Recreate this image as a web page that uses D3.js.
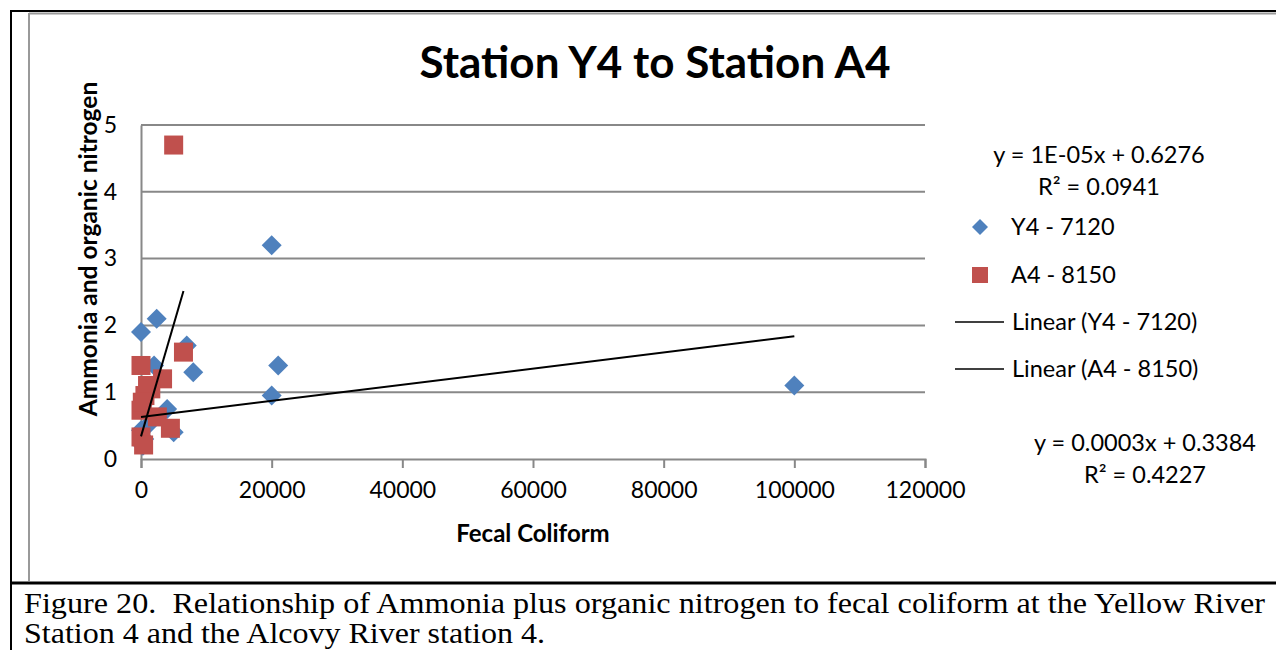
<!DOCTYPE html>
<html>
<head>
<meta charset="utf-8">
<script src="https://cdn.jsdelivr.net/npm/d3@7"></script>
<style>
  body { margin: 0; background: #fff; }
  svg { display: block; }
  text { font-family: Lato, "Open Sans", sans-serif; fill: #000; }
  .caption { font-family: "Liberation Serif", "Times New Roman", serif; white-space: pre; }
</style>
</head>
<body>
<svg width="1276" height="650"></svg>
<script>
// Y4 - 7120 (blue diamonds)
var y4X = [0, 2400, 2000, 7000, 8000, 20000, 21000, 20000, 4000, 5000, 0, 100000, 500, 300, 1000, 200];
var y4Y = [1.9, 2.1, 1.4, 1.7, 1.3, 3.2, 1.4, 0.95, 0.75, 0.4, 0.43, 1.1, 0.3, 0.2, 0.5, 0.8];

// A4 - 8150 (red squares)
var a4X = [5000, 6500, 0, 3300, 1000, 600, 0, 2500, 4500, 0, 400, 1500, 200];
var a4Y = [4.7, 1.6, 1.4, 1.2, 1.1, 0.95, 0.73, 0.63, 0.46, 0.33, 0.21, 1.05, 0.85];

// linear trend lines: [slope, intercept, xmin, xmax]
var trendY4 = [1.21e-5, 0.6276, 0, 100000];
var trendA4 = [0.000335, 0.3384, 0, 6500];

var xTicks = [0, 20000, 40000, 60000, 80000, 100000, 120000];
var yTicks = [0, 1, 2, 3, 4, 5];

var seriesNames = ["Y4 - 7120", "A4 - 8150", "Linear (Y4 - 7120)", "Linear (A4 - 8150)"];
var equations = [["y = 1E-05x + 0.6276", "R\u00B2 = 0.0941"], ["y = 0.0003x + 0.3384", "R\u00B2 = 0.4227"]];

var blue = "#4f81bd", red = "#c0504d", grid = "#888888";

var svg = d3.select("svg");

// frame
svg.append("line").attr("x1", 11).attr("y1", 11).attr("x2", 11).attr("y2", 650)
  .attr("stroke", "#000").attr("stroke-width", 2);
svg.append("line").attr("x1", 10).attr("y1", 11).attr("x2", 1276).attr("y2", 11)
  .attr("stroke", "#000").attr("stroke-width", 2);
svg.append("line").attr("x1", 29).attr("y1", 13.5).attr("x2", 1276).attr("y2", 13.5)
  .attr("stroke", "#999").attr("stroke-width", 2);
svg.append("line").attr("x1", 29).attr("y1", 13).attr("x2", 29).attr("y2", 581)
  .attr("stroke", "#999").attr("stroke-width", 2);
svg.append("line").attr("x1", 10).attr("y1", 583).attr("x2", 1276).attr("y2", 583)
  .attr("stroke", "#000").attr("stroke-width", 3);

var x = d3.scaleLinear().domain([0, 120000]).range([141, 925]);
var y = d3.scaleLinear().domain([0, 5]).range([459, 125]);

// gridlines
svg.append("g").selectAll("line")
  .data(yTicks.slice(1))
  .enter().append("line")
  .attr("x1", x(0)).attr("x2", x(120000))
  .attr("y1", function(d) { return y(d); })
  .attr("y2", function(d) { return y(d); })
  .attr("stroke", grid).attr("stroke-width", 2);

// x axis
var xAxis = svg.append("g")
  .attr("transform", "translate(0," + y(0) + ")")
  .call(d3.axisBottom(x).tickValues(xTicks).tickSize(9).tickPadding(14).tickFormat(d3.format("d")));
xAxis.select(".domain").attr("stroke", grid).attr("stroke-width", 2);
xAxis.selectAll(".tick line").attr("stroke", grid).attr("stroke-width", 2);
xAxis.selectAll(".tick text").attr("font-size", 23).attr("font-family", "Lato, sans-serif").attr("fill", "#000");

// y axis
var yAxis = svg.append("g")
  .attr("transform", "translate(" + x(0) + ",0)")
  .call(d3.axisLeft(y).tickValues(yTicks).tickSize(0).tickPadding(24).tickFormat(d3.format("d")));
yAxis.select(".domain").attr("stroke", grid).attr("stroke-width", 2);
yAxis.selectAll(".tick text").attr("font-size", 23).attr("font-family", "Lato, sans-serif").attr("fill", "#000");

// markers
var diamond = "M0,-10L10,0L0,10L-10,0Z";

svg.append("g").selectAll("path")
  .data(d3.range(y4X.length))
  .enter().append("path")
  .attr("d", diamond)
  .attr("fill", blue)
  .attr("transform", function(i) { return "translate(" + x(y4X[i]) + "," + y(y4Y[i]) + ")"; });

svg.append("g").selectAll("rect")
  .data(d3.range(a4X.length))
  .enter().append("rect")
  .attr("x", function(i) { return x(a4X[i]) - 9.5; })
  .attr("y", function(i) { return y(a4Y[i]) - 9.5; })
  .attr("width", 19).attr("height", 19)
  .attr("fill", red);

// trend lines
[trendY4, trendA4].forEach(function(t) {
  svg.append("line")
    .attr("x1", x(t[2])).attr("y1", y(t[0] * t[2] + t[1]))
    .attr("x2", x(t[3])).attr("y2", y(t[0] * t[3] + t[1]))
    .attr("stroke", "#000").attr("stroke-width", 2);
});

// titles
svg.append("text").attr("x", 655).attr("y", 78)
  .attr("text-anchor", "middle").attr("font-size", 44).attr("font-weight", "bold")
  .text("Station Y4 to Station A4");

svg.append("text").attr("x", 533).attr("y", 542)
  .attr("text-anchor", "middle").attr("font-size", 24).attr("font-weight", "bold")
  .text("Fecal Coliform");

svg.append("text").attr("transform", "translate(97,249) rotate(-90)")
  .attr("text-anchor", "middle").attr("font-size", 24.5).attr("font-weight", "bold")
  .text("Ammonia and organic nitrogen");

// equations
var eqPos = [[1099, 163], [1145, 451]];
equations.forEach(function(e, i) {
  svg.append("text").attr("x", eqPos[i][0]).attr("y", eqPos[i][1])
    .attr("text-anchor", "middle").attr("font-size", 23.5).text(e[0]);
  svg.append("text").attr("x", eqPos[i][0]).attr("y", eqPos[i][1] + 32)
    .attr("text-anchor", "middle").attr("font-size", 23.5).text(e[1]);
});

// legend
var legY = [227, 275, 322, 369];
var legend = svg.append("g");
legend.append("path").attr("d", "M0,-8L8,0L0,8L-8,0Z").attr("fill", blue)
  .attr("transform", "translate(980," + legY[0] + ")");
legend.append("rect").attr("x", 972).attr("y", legY[1] - 8).attr("width", 16).attr("height", 16).attr("fill", red);
legend.append("line").attr("x1", 955).attr("x2", 1004).attr("y1", legY[2]).attr("y2", legY[2]).attr("stroke", "#000").attr("stroke-width", 1.5);
legend.append("line").attr("x1", 955).attr("x2", 1004).attr("y1", legY[3]).attr("y2", legY[3]).attr("stroke", "#000").attr("stroke-width", 1.5);
legend.selectAll("text")
  .data(seriesNames)
  .enter().append("text")
  .attr("x", function(d, i) { return i < 2 ? 1011 : 1012; })
  .attr("y", function(d, i) { return legY[i] + 8; })
  .attr("font-size", 23.5)
  .text(function(d) { return d; });

// caption (slightly stretched, as in the document)
svg.append("text").attr("class", "caption").attr("x", 24).attr("y", 613)
  .attr("font-size", 28.5)
  .attr("textLength", 1241).attr("lengthAdjust", "spacingAndGlyphs")
  .text("Figure 20.  Relationship of Ammonia plus organic nitrogen to fecal coliform at the Yellow River");
svg.append("text").attr("class", "caption").attr("x", 24).attr("y", 643)
  .attr("font-size", 28.5)
  .attr("textLength", 521).attr("lengthAdjust", "spacingAndGlyphs")
  .text("Station 4 and the Alcovy River station 4.");
</script>
</body>
</html>
